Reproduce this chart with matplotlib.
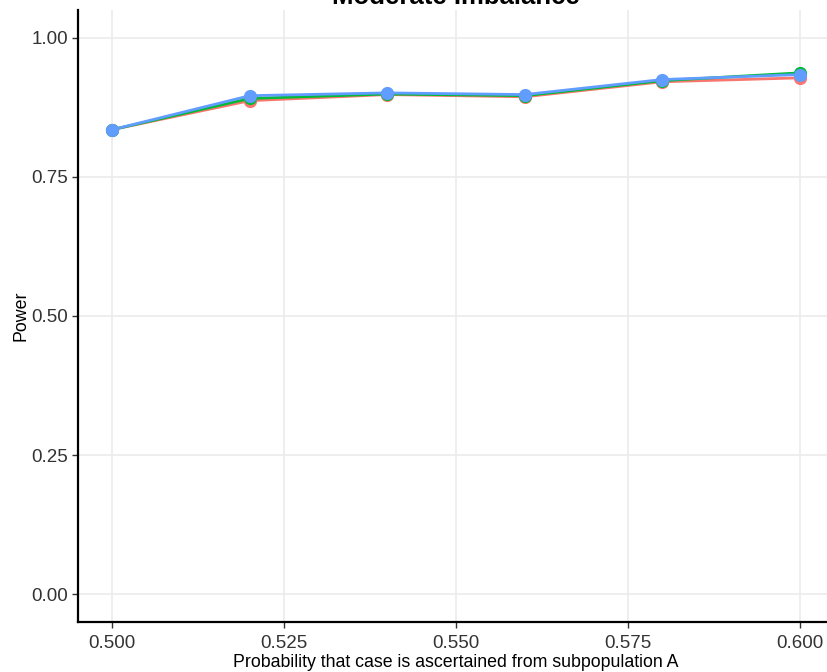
import matplotlib
matplotlib.use('Agg')
import matplotlib.pyplot as plt

plt.rcParams['font.family'] = ['Liberation Sans', 'DejaVu Sans']

# Probability that case is ascertained from subpopulation A
prob_a = [0.50, 0.52, 0.54, 0.56, 0.58, 0.60]

# power for the three methods
power_red = [0.835, 0.887, 0.898, 0.894, 0.921, 0.928]
power_green = [0.835, 0.891, 0.899, 0.896, 0.923, 0.937]
power_blue = [0.835, 0.896, 0.901, 0.898, 0.925, 0.934]

series = [
    (power_red, '#F8766D'),
    (power_green, '#00BA38'),
    (power_blue, '#619CFF'),
]

x_ticks = [0.500, 0.525, 0.550, 0.575, 0.600]
y_ticks = [0.00, 0.25, 0.50, 0.75, 1.00]

W, H = 827, 672
fig = plt.figure(figsize=(W / 100, H / 100), dpi=100)
# panel from x=78..834 px (cropped on the right), y=10..622 px
ax = fig.add_axes([78 / W, (H - 622) / H, (834 - 78) / W, (622 - 10) / H])

for vals, col in series:
    ax.plot(prob_a, vals, '-', color=col, linewidth=2, zorder=3)
    ax.scatter(prob_a, vals, s=90, color=col, zorder=4, linewidths=0)

ax.set_xlim(0.495, 0.605)
ax.set_ylim(-0.05, 1.05)
ax.set_xticks(x_ticks)
ax.set_xticklabels([f'{v:.3f}' for v in x_ticks])
ax.set_yticks(y_ticks)
ax.set_yticklabels([f'{v:.2f}' for v in y_ticks])
ax.grid(True, color='#EBEBEB', linewidth=1.2, zorder=0)
ax.set_axisbelow(True)

for s in ['top', 'right']:
    ax.spines[s].set_visible(False)
for s in ['left', 'bottom']:
    ax.spines[s].set_linewidth(1.6)
    ax.spines[s].set_color('black')

ax.tick_params(axis='both', length=4, width=1, color='#333333',
               labelsize=13.5, labelcolor='#333333')
ax.tick_params(axis='x', pad=5)
ax.tick_params(axis='y', pad=3)

ax.set_xlabel('Probability that case is ascertained from subpopulation A',
              fontsize=12.8, labelpad=2)
ax.set_ylabel('Power', fontsize=12.8, labelpad=1.5)

fig.text(456 / W, 1.0 - 4 / H, 'Moderate Imbalance', ha='center', va='baseline',
         fontsize=18.5, fontweight='bold')

fig.savefig('out.png', dpi=100)
